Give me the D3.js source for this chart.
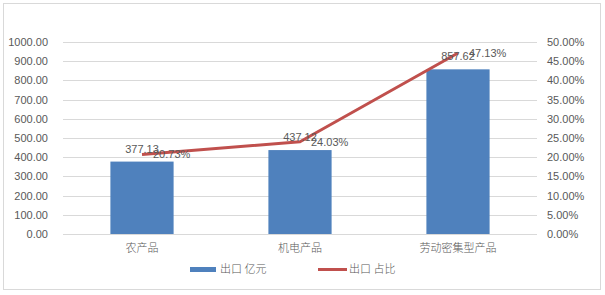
<!DOCTYPE html>
<html>
<head>
<meta charset="utf-8">
<script src="https://cdn.jsdelivr.net/npm/d3@7"></script>
<style>
  body { margin: 0; background: #fff; }
  text { font-family: "Liberation Sans", Arial, sans-serif; fill: #595959; }
  .cjk { font-family: "Noto Sans CJK SC", sans-serif; font-weight: 300; }
</style>
</head>
<body>
<svg id="chart"></svg>
<script>
// data
const categories = ["农产品", "机电产品", "劳动密集型产品"];
const exportValue = [377.13, 437.12, 857.62];   // 出口 亿元
const exportShare = [20.73, 24.03, 47.13];      // 出口 占比 (%)
const leftTicks = [0, 100, 200, 300, 400, 500, 600, 700, 800, 900, 1000];
const rightTicks = [0, 5, 10, 15, 20, 25, 30, 35, 40, 45, 50];
const seriesNames = ["出口 亿元", "出口 占比"];

const width = 605, height = 295;
const plot = { left: 63, right: 537, top: 42, bottom: 234 };

const svg = d3.select("#chart").attr("width", width).attr("height", height);

// outer border
svg.append("rect")
  .attr("x", 3.5).attr("y", 3.5)
  .attr("width", 597).attr("height", 286)
  .attr("fill", "none").attr("stroke", "#d9d9d9");

const x = d3.scaleBand().domain(categories).range([plot.left, plot.right]);
const yL = d3.scaleLinear().domain([0, 1000]).range([plot.bottom, plot.top]);
const yR = d3.scaleLinear().domain([0, 50]).range([plot.bottom, plot.top]);

// gridlines
svg.append("g").selectAll("line")
  .data(leftTicks.slice(1))
  .join("line")
  .attr("x1", plot.left).attr("x2", plot.right)
  .attr("y1", (d) => Math.round(yL(d)) + 0.5)
  .attr("y2", (d) => Math.round(yL(d)) + 0.5)
  .attr("stroke", "#d9d9d9");

// left axis labels
svg.append("g").selectAll("text")
  .data(leftTicks)
  .join("text")
  .attr("x", 48)
  .attr("y", (d) => yL(d) + 4)
  .attr("text-anchor", "end")
  .attr("font-size", 11)
  .text((d) => d3.format(".2f")(d));

// right axis labels
svg.append("g").selectAll("text")
  .data(rightTicks)
  .join("text")
  .attr("x", 547)
  .attr("y", (d) => yR(d) + 4)
  .attr("text-anchor", "start")
  .attr("font-size", 11)
  .text((d) => d3.format(".2f")(d) + "%");

// bars
const barW = x.bandwidth() * 0.4;
svg.append("g").selectAll("rect")
  .data(categories)
  .join("rect")
  .attr("x", (d) => x(d) + (x.bandwidth() - barW) / 2)
  .attr("y", (d, i) => yL(exportValue[i]))
  .attr("width", barW)
  .attr("height", (d, i) => plot.bottom - yL(exportValue[i]))
  .attr("fill", "#4f81bd");

// category axis
svg.append("line")
  .attr("x1", plot.left).attr("x2", plot.right)
  .attr("y1", plot.bottom + 0.5).attr("y2", plot.bottom + 0.5)
  .attr("stroke", "#d9d9d9");

svg.append("g").selectAll("text")
  .data(categories)
  .join("text")
  .attr("class", "cjk")
  .attr("x", (d) => x(d) + x.bandwidth() / 2)
  .attr("y", 252)
  .attr("text-anchor", "middle")
  .attr("font-size", 11)
  .text((d) => d);

// line
const cx = (d) => x(d) + x.bandwidth() / 2;
const line = d3.line()
  .x((d) => cx(d))
  .y((d, i) => yR(exportShare[i]));
svg.append("path")
  .datum(categories)
  .attr("d", line)
  .attr("fill", "none")
  .attr("stroke", "#c0504d")
  .attr("stroke-width", 3)
  .attr("stroke-linejoin", "round");

// bar value labels
svg.append("g").selectAll("text")
  .data(categories)
  .join("text")
  .attr("x", (d) => cx(d))
  .attr("y", (d, i) => yL(exportValue[i]) - 9)
  .attr("text-anchor", "middle")
  .attr("font-size", 11)
  .attr("fill", "#404040")
  .text((d, i) => d3.format(".2f")(exportValue[i]));

// line value labels
svg.append("g").selectAll("text")
  .data(categories)
  .join("text")
  .attr("x", (d) => cx(d) + 11)
  .attr("y", (d, i) => yR(exportShare[i]) + 4)
  .attr("text-anchor", "start")
  .attr("font-size", 11)
  .attr("fill", "#404040")
  .text((d, i) => d3.format(".2f")(exportShare[i]) + "%");

// legend
const legend = svg.append("g");
legend.append("rect")
  .attr("x", 190).attr("y", 267)
  .attr("width", 26).attr("height", 5)
  .attr("fill", "#4f81bd");
legend.append("text")
  .attr("class", "cjk")
  .attr("x", 220).attr("y", 273)
  .attr("font-size", 11)
  .text(seriesNames[0]);
legend.append("line")
  .attr("x1", 318).attr("x2", 347)
  .attr("y1", 269.5).attr("y2", 269.5)
  .attr("stroke", "#c0504d")
  .attr("stroke-width", 3);
legend.append("text")
  .attr("class", "cjk")
  .attr("x", 349).attr("y", 273)
  .attr("font-size", 11)
  .text(seriesNames[1]);
</script>
</body>
</html>
